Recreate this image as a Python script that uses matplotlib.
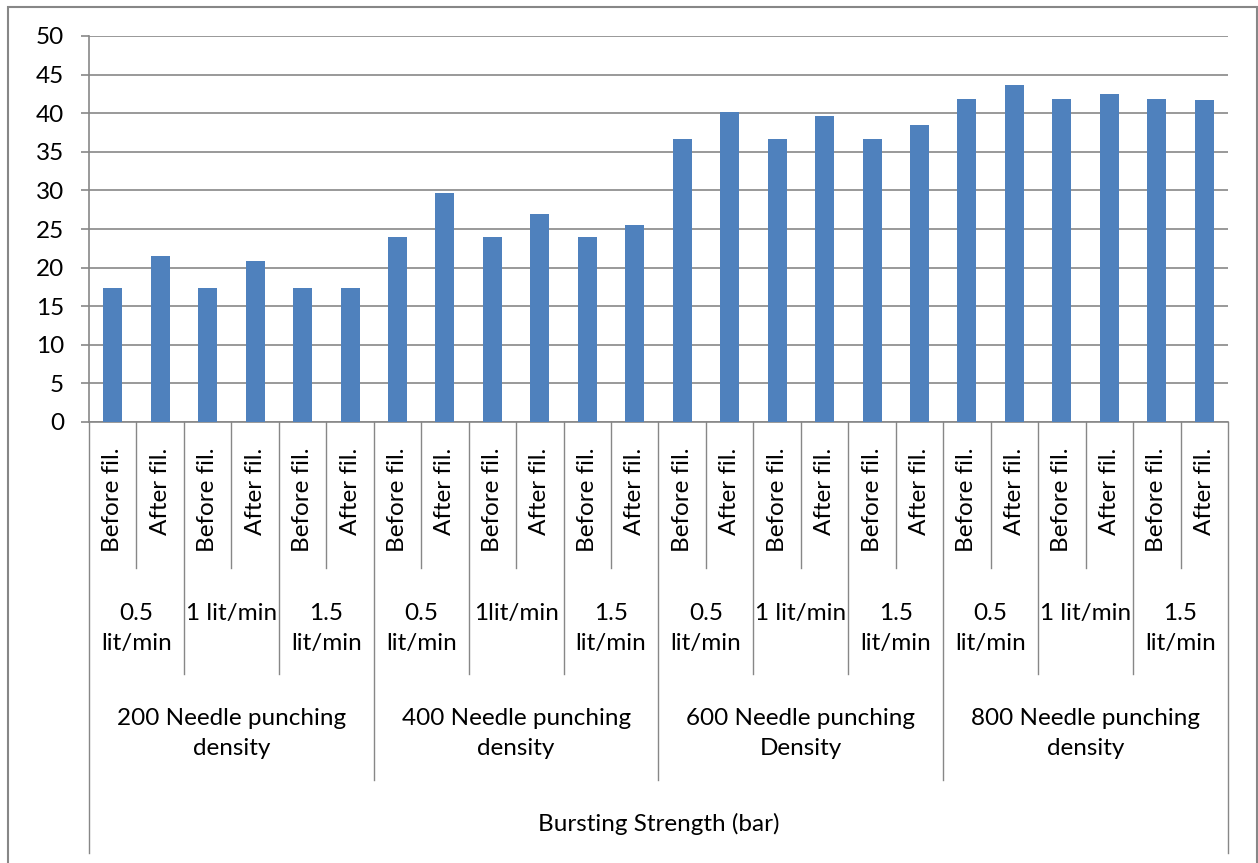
import matplotlib.pyplot as plt
import matplotlib.transforms as mtransforms
from matplotlib.patches import Rectangle

# bursting strength (bar) for each sample
values = [17.3, 21.5, 17.3, 20.8, 17.3, 17.4,
          24.0, 29.6, 24.0, 27.0, 24.0, 25.5,
          36.6, 40.1, 36.6, 39.6, 36.6, 38.5,
          41.8, 43.6, 41.8, 42.5, 41.8, 41.7]
stage_labels = ["Before fil.", "After fil."] * 12
flow_labels = ["0.5\nlit/min", "1 lit/min", "1.5\nlit/min",
               "0.5\nlit/min", "1lit/min", "1.5\nlit/min",
               "0.5\nlit/min", "1 lit/min", "1.5\nlit/min",
               "0.5\nlit/min", "1 lit/min", "1.5\nlit/min"]
density_labels = ["200 Needle punching\ndensity", "400 Needle punching\ndensity",
                  "600 Needle punching\nDensity", "800 Needle punching\ndensity"]
axis_title = "Bursting Strength (bar)"

W, H = 1258, 863
plt.rcParams['font.family'] = ['Lato', 'DejaVu Sans']
FS = 17.5
GRAY = "#878787"

fig = plt.figure(figsize=(W / 100, H / 100), dpi=100)
ax = fig.add_axes([89 / W, 1 - 422 / H, (1228 - 89) / W, (422 - 36) / H])

x = list(range(len(values)))
ax.bar(x, values, width=0.4, color="#4F81BD", zorder=3)
ax.set_xlim(-0.5, len(values) - 0.5)
ax.set_ylim(0, 50)
ax.set_yticks(range(0, 51, 5))
ax.yaxis.grid(True, color=GRAY, linewidth=1.2)
ax.set_axisbelow(True)
ax.tick_params(axis='y', length=6, width=1.2, color=GRAY, pad=12, labelsize=FS)
ax.set_xticks([])
for s in ["top", "right"]:
    ax.spines[s].set_visible(False)
ax.spines["left"].set_color(GRAY)
ax.spines["bottom"].set_color(GRAY)
ax.spines["left"].set_linewidth(1.2)
ax.spines["bottom"].set_linewidth(1.2)

# x in data units, y in figure pixels from the top
trans = mtransforms.blended_transform_factory(ax.transData, fig.transFigure)


def fy(py):
    return 1 - py / H


# separators of the multi-level category axis
n = len(values)
for i in range(n + 1):
    xb = i - 0.5
    if i == 0 or i == n:
        bottom = 853
    elif i % 6 == 0:
        bottom = 780
    elif i % 2 == 0:
        bottom = 674
    else:
        bottom = 568
    ax.plot([xb, xb], [fy(422), fy(bottom)], color=GRAY, linewidth=1.0,
            transform=trans, clip_on=False)

for i, lab in enumerate(stage_labels):
    ax.text(i, fy(448), lab, rotation=90, ha="center", va="top",
            fontsize=FS, transform=trans)

for j, lab in enumerate(flow_labels):
    ax.text(2 * j + 0.5, fy(603), lab, ha="center", va="top",
            fontsize=FS, linespacing=1.55, transform=trans)

for k, lab in enumerate(density_labels):
    ax.text(6 * k + 2.5, fy(708), lab, ha="center", va="top",
            fontsize=FS, linespacing=1.55, transform=trans)

ax.text((n - 1) / 2, fy(824), axis_title, ha="center", va="center",
        fontsize=FS, transform=trans)

# chart frame
fig.patches.append(Rectangle((8 / W, -0.1), (1257 - 8) / W, 1.1 - 7 / H,
                             transform=fig.transFigure, fill=False,
                             edgecolor=GRAY, linewidth=1.5))

fig.savefig("out.png", dpi=100)
